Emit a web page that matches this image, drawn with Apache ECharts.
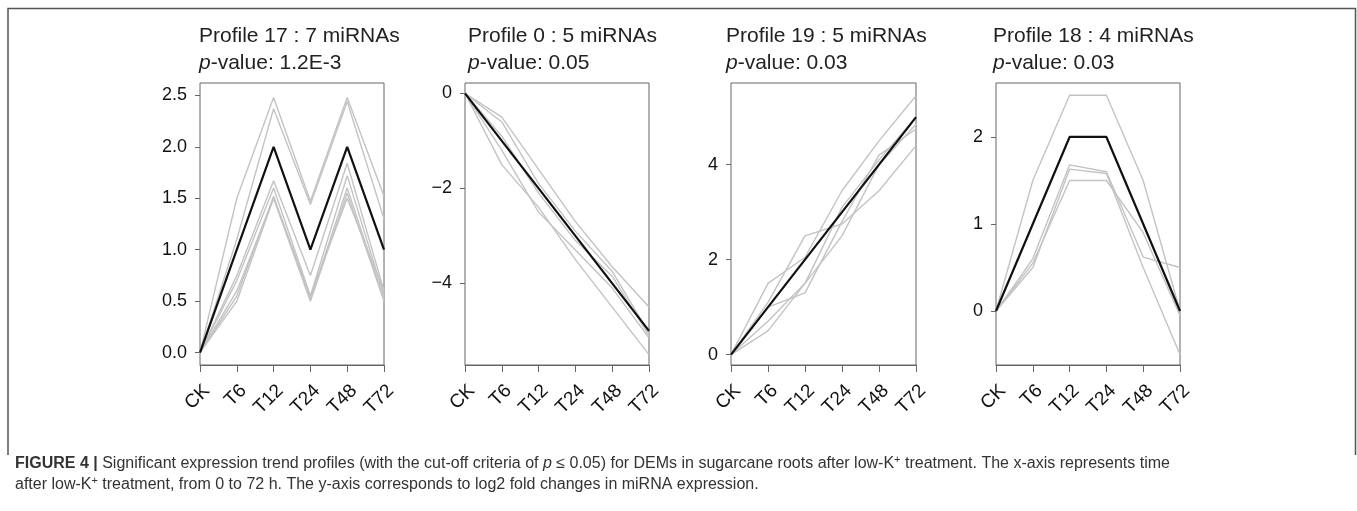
<!DOCTYPE html>
<html>
<head>
<meta charset="utf-8">
<script src="https://cdn.jsdelivr.net/npm/echarts@6/dist/echarts.min.js"></script>
<style>
  html, body { margin: 0; padding: 0; background: #fff; }
  #main { width: 1357px; height: 511px; }
</style>
</head>
<body>
<div id="main"></div>
<script>
var chart = echarts.init(document.getElementById('main'));
var FONT = 'Liberation Sans, Arial, Helvetica, sans-serif';

// time points (x axis)
var timePoints = ['CK', 'T6', 'T12', 'T24', 'T48', 'T72'];

// Profile 17 : 7 miRNAs
var p17Model = [0, 1, 2, 1, 2, 1];
var p17Genes = [
    [0, 1.5, 2.48, 1.47, 2.48, 1.52],
    [0, 1.1, 2.37, 1.44, 2.44, 1.3],
    [0, 0.75, 1.67, 0.75, 1.84, 0.6],
    [0, 0.7, 1.6, 0.55, 1.72, 0.55],
    [0, 0.55, 1.52, 0.52, 1.6, 0.52],
    [0, 0.5, 1.5, 0.5, 1.55, 0.5],
    [0, 0.6, 1.5, 0.55, 1.5, 0.6]
];
// Profile 0 : 5 miRNAs
var p0Model = [0, -1, -2, -3, -4, -5];
var p0Genes = [
    [0, -0.5, -1.6, -2.7, -3.65, -4.5],
    [0, -0.6, -1.9, -2.9, -3.75, -5.05],
    [0, -0.9, -2.1, -3.1, -3.85, -5.1],
    [0, -1.2, -2.5, -3.3, -4.1, -5.15],
    [0, -1.5, -2.4, -3.5, -4.5, -5.5]
];
// Profile 19 : 5 miRNAs
var p19Model = [0, 1, 2, 3, 4, 5];
var p19Genes = [
    [0, 1.5, 2.05, 3.45, 4.5, 5.45],
    [0, 0.7, 1.5, 3.1, 4.1, 5.0],
    [0, 1.1, 2.5, 2.75, 3.45, 4.4],
    [0, 0.5, 1.5, 2.5, 4.0, 4.85],
    [0, 1.0, 1.3, 2.8, 4.2, 4.75]
];
// Profile 18 : 4 miRNAs
var p18Model = [0, 1, 2, 2, 1, 0];
var p18Genes = [
    [0, 1.5, 2.48, 2.48, 1.5, 0.0],
    [0, 0.6, 1.68, 1.6, 0.62, 0.5],
    [0, 0.5, 1.63, 1.58, 0.5, -0.5],
    [0, 0.55, 1.5, 1.5, 0.9, -0.05]
];

// y tick labels
var p17Ticks = [0, 0.5, 1, 1.5, 2, 2.5];
var p0Ticks = [0, -2, -4];
var p19Ticks = [0, 2, 4];
var p18Ticks = [0, 1, 2];

var panels = [
    {title: 'Profile 17 : 7 miRNAs', pval: '1.2E-3', model: p17Model, genes: p17Genes, ticks: p17Ticks, min: -0.12, max: 2.62, dec: 1, left: 200, width: 184, titleLeft: 199},
    {title: 'Profile 0 : 5 miRNAs', pval: '0.05', model: p0Model, genes: p0Genes, ticks: p0Ticks, min: -5.72, max: 0.22, dec: 0, left: 465, width: 184, titleLeft: 468},
    {title: 'Profile 19 : 5 miRNAs', pval: '0.03', model: p19Model, genes: p19Genes, ticks: p19Ticks, min: -0.22, max: 5.72, dec: 0, left: 731, width: 185, titleLeft: 726},
    {title: 'Profile 18 : 4 miRNAs', pval: '0.03', model: p18Model, genes: p18Genes, ticks: p18Ticks, min: -0.62, max: 2.62, dec: 0, left: 996, width: 184, titleLeft: 993}
];

var grids = [], xAxes = [], yAxes = [], series = [], titles = [];
panels.forEach(function (p, i) {
    grids.push({
        left: p.left, top: 83, width: p.width, height: 282,
        show: true, borderColor: '#666', borderWidth: 1, backgroundColor: 'transparent'
    });
    xAxes.push({
        gridIndex: i, type: 'category', data: timePoints, boundaryGap: false,
        axisLine: {show: true, onZero: false, lineStyle: {color: '#666', width: 1}},
        axisTick: {show: true, inside: false, length: 7, lineStyle: {color: '#666'}},
        axisLabel: {rotate: 45, fontSize: 19, color: '#111', fontFamily: FONT, margin: 16, interval: 0, verticalAlign: 'top'},
        splitLine: {show: false}
    });
    yAxes.push({
        gridIndex: i, type: 'value', min: p.min, max: p.max,
        axisLine: {show: false},
        axisTick: {show: true, length: 5, lineStyle: {color: '#666'}, customValues: p.ticks},
        axisLabel: {
            fontSize: 18, color: '#111', fontFamily: FONT, margin: 13, customValues: p.ticks,
            formatter: (function (d) {
                return function (v) { return v.toFixed(d).replace('-', '\u2212'); };
            })(p.dec)
        },
        splitLine: {show: false}
    });
    p.genes.forEach(function (g) {
        series.push({
            type: 'line', xAxisIndex: i, yAxisIndex: i, data: g, symbol: 'none', silent: true,
            lineStyle: {color: '#c3c3c3', width: 1.4}
        });
    });
    series.push({
        type: 'line', xAxisIndex: i, yAxisIndex: i, data: p.model, symbol: 'none', silent: true,
        lineStyle: {color: '#111', width: 2.2}, z: 3
    });
    titles.push({
        left: p.titleLeft, top: 23, padding: 0,
        text: p.title + '\n{i|p}-value: ' + p.pval,
        textStyle: {
            fontSize: 21, fontWeight: 'normal', color: '#222', fontFamily: FONT, lineHeight: 27,
            rich: {i: {fontStyle: 'italic', fontSize: 21, color: '#222', fontFamily: FONT, lineHeight: 27}}
        }
    });
});

var caption = '{b|FIGURE 4 |} Significant expression trend profiles (with the cut-off criteria of {i|p} \u2264 0.05) for DEMs in sugarcane roots after low-K{s|+} treatment. The x-axis represents time\n' +
    'after low-K{s|+} treatment, from 0 to 72 h. The y-axis corresponds to log2 fold changes in miRNA expression.';

var option = {
    backgroundColor: '#fff',
    animation: false,
    title: titles,
    grid: grids,
    xAxis: xAxes,
    yAxis: yAxes,
    series: series,
    graphic: [
        {
            type: 'polyline', silent: true,
            shape: {points: [[8, 455], [8, 8.5], [1355.5, 8.5], [1355.5, 455]]},
            style: {stroke: '#555', lineWidth: 1.5, fill: null}
        },
        {
            type: 'text', left: 15, top: 453, silent: true,
            style: {
                text: caption, fill: '#333', fontSize: 16, fontFamily: FONT, lineHeight: 21,
                rich: {
                    b: {fontWeight: 'bold', fontSize: 16, fill: '#333', fontFamily: FONT, lineHeight: 21},
                    i: {fontStyle: 'italic', fontSize: 16, fill: '#333', fontFamily: FONT, lineHeight: 21},
                    s: {fontSize: 11, fill: '#333', fontFamily: FONT, lineHeight: 21, verticalAlign: 'top', padding: [1, 0, 0, 0]}
                }
            }
        }
    ]
};
chart.setOption(option);
</script>
</body>
</html>
